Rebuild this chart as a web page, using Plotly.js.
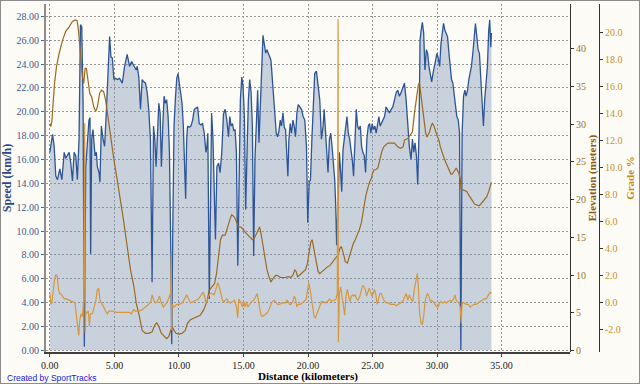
<!DOCTYPE html>
<html><head><meta charset="utf-8">
<script src="https://cdn.plot.ly/plotly-3.0.1.min.js"></script>
<style>
html,body{margin:0;padding:0;background:#fcfbf5;}
#wrap{position:relative;width:640px;height:384px;overflow:hidden;}
#chart{width:640px;height:384px;}
#frame{position:absolute;left:0;top:0;width:640px;height:384px;box-sizing:border-box;border:1px solid #8c8c8c;pointer-events:none;}
</style></head><body>
<div id="wrap"><div id="chart"></div><div id="frame"></div></div>
<script>
// ---- Speed (km/h) vs distance (km)
const speedKm = [0.00,0.21,0.33,0.46,0.59,0.77,0.93,1.11,1.23,1.36,1.49,1.62,1.75,1.88,2.01,2.13,2.26,2.37,2.47,2.57,2.67,2.78,2.91,3.03,3.11,3.16,3.24,3.34,3.50,3.60,3.68,3.81,3.88,3.99,4.12,4.24,4.37,4.50,4.63,4.73,4.84,4.96,5.09,5.22,5.40,5.61,5.79,5.99,6.17,6.33,6.51,6.69,
6.77,6.89,7.02,7.15,7.28,7.41,7.54,7.66,7.79,7.92,8.03,8.13,8.23,8.33,8.44,8.54,8.64,8.75,8.85,8.95,9.05,9.16,9.26,9.36,9.44,9.52,9.62,9.72,9.83,9.93,10.03,10.13,10.24,10.34,10.44,10.52,10.60,10.67,10.80,10.93,11.06,11.19,11.32,11.45,11.57,11.70,11.83,11.96,12.09,12.17,12.24,12.35,12.45,12.53,12.63,12.73,12.83,12.94,13.07,13.19,13.32,13.45,13.58,
13.71,13.84,13.94,14.04,14.15,14.25,14.35,14.45,14.56,14.66,14.76,14.87,14.97,15.07,15.17,15.28,15.38,15.48,15.59,15.69,15.79,15.89,16.00,16.10,16.20,16.31,16.41,16.51,16.61,16.72,16.82,16.92,17.03,17.13,17.23,17.33,17.44,17.54,17.64,17.75,17.85,17.95,18.06,18.16,18.26,18.36,18.44,18.52,18.62,18.72,18.83,18.93,19.03,19.14,19.24,19.37,19.50,19.62,19.75,19.88,19.98,20.09,20.19,20.29,20.40,20.52,
20.65,20.78,20.91,21.04,21.17,21.25,21.35,21.45,21.55,21.66,21.76,21.86,21.97,22.07,22.15,22.22,22.33,22.43,22.53,22.61,22.71,22.81,22.92,23.02,23.12,23.23,23.33,23.43,23.53,23.64,23.74,23.84,23.95,24.05,24.15,24.25,24.36,24.46,24.56,24.67,24.77,24.87,24.97,25.08,25.18,25.28,25.39,25.49,25.59,25.69,25.80,25.93,26.05,26.18,26.31,26.44,26.57,26.70,26.83,26.95,27.08,27.21,27.34,27.47,
27.60,27.73,27.85,27.98,28.09,28.19,28.29,28.40,28.50,28.60,28.68,28.76,28.86,28.96,29.06,29.17,29.27,29.37,29.48,29.58,29.68,29.78,29.89,29.99,30.09,30.20,30.30,30.40,30.50,30.61,30.71,30.81,30.92,31.02,31.12,31.22,31.33,31.43,31.53,31.64,31.74,31.84,31.94,32.05,32.15,32.25,32.36,32.46,32.56,32.66,32.77,32.87,32.97,33.08,33.18,33.28,33.38,33.49,33.59,33.69,33.80,33.90,34.00,34.08,34.16,34.21];
const speedKmh = [16.6,18.1,17.1,14.6,14.3,15.2,14.3,16.6,16.1,16.3,16.6,15.7,14.2,16.6,16.3,14.3,17.7,27.3,27.1,21.0,0.3,15.4,17.7,19.3,19.5,8.1,17.7,18.5,16.3,16.6,15.4,14.9,14.1,18.8,17.7,17.1,19.9,22.7,26.3,24.6,24.5,22.7,22.8,22.7,22.8,22.4,23.8,24.8,23.8,24.2,23.8,23.5,
23.8,22.9,20.2,22.7,22.5,22.4,21.6,20.2,17.7,5.7,18.8,17.7,15.4,18.2,20.7,19.9,15.4,18.8,21.3,20.7,21.0,19.6,16.8,9.1,0.5,9.9,18.8,21.0,22.8,23.2,22.4,21.8,20.7,18.8,15.4,12.7,17.7,18.8,18.7,18.8,19.3,20.2,20.3,20.4,19.0,18.9,19.0,18.2,16.6,17.1,18.2,4.3,12.7,19.9,17.9,12.7,9.3,15.4,15.7,14.9,16.6,19.8,20.2,
19.3,17.9,19.6,18.8,19.0,18.4,18.5,16.6,7.1,15.4,21.0,22.9,22.1,19.6,11.8,16.8,21.0,22.7,21.6,18.8,7.9,16.0,19.6,21.8,17.4,21.0,24.3,26.4,25.7,24.9,25.2,24.8,24.6,24.3,22.9,21.6,19.6,18.2,17.9,18.4,19.3,18.8,19.9,18.7,18.5,16.3,14.6,17.7,19.0,18.2,19.3,18.8,17.9,19.9,20.6,20.4,20.2,19.6,19.3,17.1,10.7,14.1,14.3,17.4,21.0,23.2,
23.4,22.1,21.0,17.7,18.8,20.2,18.2,16.0,14.9,17.7,18.2,17.1,15.4,14.3,12.0,8.8,12.7,16.6,14.9,13.3,16.8,17.7,18.8,19.6,18.2,17.7,16.8,16.0,14.6,17.7,20.2,18.8,18.5,18.8,17.1,16.6,16.3,14.9,17.7,18.8,19.0,18.2,19.0,18.5,18.8,18.2,19.0,19.6,18.8,19.0,19.3,19.6,20.4,20.2,19.9,20.2,20.4,21.0,21.6,21.8,21.3,21.6,22.1,22.4,
21.0,18.8,17.1,16.0,17.7,16.6,17.4,16.3,13.9,18.2,26.0,26.8,27.5,26.6,23.5,25.2,24.9,23.8,22.9,22.5,23.2,23.8,24.6,24.9,24.5,23.8,25.7,26.7,27.4,26.8,26.6,26.3,24.9,23.8,22.7,22.4,21.3,20.2,19.6,19.3,18.2,0.0,18.2,21.3,21.8,21.3,21.8,22.7,23.2,23.8,24.9,26.6,27.4,26.3,25.2,24.9,22.7,20.4,18.8,21.0,22.4,23.8,26.8,27.7,25.4,26.6];

// ---- Elevation (m) vs distance (km)
const elevKm = [0.00,0.08,0.15,0.26,0.36,0.51,0.72,0.98,1.23,1.49,1.75,1.95,2.11,2.21,2.31,2.42,2.52,2.62,2.73,2.83,2.93,3.09,3.24,3.40,3.55,3.68,3.86,4.01,4.17,4.32,4.48,4.63,4.78,4.96,5.22,5.48,5.74,5.99,6.25,6.51,6.69,
6.89,7.15,7.41,7.66,7.92,8.13,8.28,8.44,8.64,8.85,9.05,9.21,9.36,9.47,9.62,9.77,9.98,10.24,10.49,10.65,10.88,11.14,11.39,11.65,11.91,12.17,12.35,12.55,12.76,12.91,13.07,13.22,13.37,
13.58,13.71,13.84,13.97,14.09,14.30,14.45,14.61,14.76,14.92,15.07,15.23,15.38,15.53,15.69,15.84,16.00,16.15,16.25,16.36,16.51,16.67,16.82,16.98,17.13,17.23,17.39,17.54,17.70,17.85,18.00,18.21,18.47,18.67,18.83,18.98,19.08,19.19,19.34,19.50,19.65,19.80,19.96,20.11,20.22,20.32,20.42,20.52,
20.65,20.78,20.91,21.09,21.30,21.50,21.71,21.91,22.12,22.33,22.48,22.58,22.74,22.89,23.05,23.20,23.35,23.51,23.66,23.82,23.97,24.13,24.28,24.38,24.49,24.59,24.69,24.79,24.90,25.00,25.10,25.26,25.41,25.57,25.72,25.87,26.03,26.18,26.44,26.70,26.95,27.16,27.37,
27.47,27.73,27.93,28.09,28.24,28.40,28.55,28.63,28.70,28.81,28.91,29.01,29.12,29.22,29.32,29.42,29.53,29.63,29.73,29.83,29.94,30.04,30.14,30.25,30.35,30.45,30.55,30.66,30.76,30.86,30.97,31.07,31.17,31.28,31.38,31.48,31.58,31.69,31.79,31.87,32.00,32.15,32.30,32.46,32.61,32.77,32.92,33.08,33.23,33.38,33.54,33.69,33.85,34.00,34.16,34.21];
const elevM = [30.1,29.7,30.3,33.2,35.4,37.6,39.4,41.1,42.3,42.9,43.6,43.8,43.7,42.5,40.3,38.1,36.3,35.4,37.4,37.4,36.3,34.1,33.6,32.3,31.7,32.3,34.1,34.5,34.3,33.2,31.2,29.2,27.5,25.3,22.6,20.0,16.9,13.8,10.7,8.5,6.3,
4.9,2.7,2.3,2.3,2.5,3.4,3.7,3.2,2.3,1.9,1.6,1.9,2.7,3.2,2.7,2.3,2.2,2.3,2.7,3.6,4.1,4.3,4.4,4.7,5.4,6.5,8.0,8.5,8.9,10.2,12.9,14.7,15.3,
15.3,16.0,16.9,17.5,18.0,17.7,17.1,16.4,16.4,16.2,15.8,15.5,15.3,14.9,14.7,14.9,15.5,16.2,16.4,15.5,13.8,12.0,10.7,9.8,9.1,9.4,9.8,10.0,9.9,9.7,9.7,9.7,9.8,9.7,10.0,10.7,10.5,9.8,10.0,10.2,10.5,10.7,11.6,13.3,14.4,14.7,13.8,12.9,
11.6,10.5,10.2,10.5,10.8,11.1,11.3,11.8,12.2,12.7,13.6,13.8,12.9,11.8,11.6,12.5,13.3,14.2,14.7,15.3,16.0,16.9,18.2,19.5,20.6,21.5,21.9,22.4,22.8,23.5,23.9,24.0,24.2,25.3,26.4,27.0,27.2,27.5,27.5,27.5,27.0,26.8,27.0,
27.9,28.1,28.6,29.0,31.4,33.6,35.2,35.5,34.5,32.8,31.0,29.7,28.8,28.3,28.6,29.0,29.7,30.1,29.9,29.2,28.8,28.3,27.9,27.0,26.4,25.9,25.5,25.0,24.6,24.2,23.7,23.4,23.4,23.6,23.9,24.2,23.9,23.5,22.8,21.3,21.3,21.2,21.1,20.6,20.2,19.7,19.4,19.3,19.2,19.4,19.7,20.0,20.4,21.1,22.2,22.3];

// ---- Grade (%) vs distance (km)
const gradeKm = [0.00,0.08,0.15,0.26,0.36,0.46,0.57,0.67,0.77,0.93,1.11,1.29,1.49,1.75,1.95,2.06,2.16,2.24,2.31,2.42,2.52,2.62,2.70,2.73,2.78,2.83,2.98,3.06,3.14,3.29,3.45,3.55,3.68,3.78,3.88,4.01,4.17,4.32,4.45,4.58,4.73,4.94,5.14,5.35,5.56,5.76,5.97,6.17,6.33,6.48,6.64,
6.89,7.15,7.41,7.66,7.82,7.92,8.05,8.18,8.33,8.49,8.64,8.80,8.95,9.11,9.26,9.36,9.41,9.43,9.46,9.62,9.83,10.03,10.24,10.44,10.60,10.75,10.91,11.11,11.32,11.52,11.73,11.88,11.99,12.09,12.24,12.40,12.55,12.71,12.86,13.01,13.12,13.22,13.37,13.53,
13.58,13.71,13.84,13.99,14.15,14.30,14.45,14.56,14.63,14.76,14.92,15.02,15.12,15.23,15.33,15.48,15.64,15.79,15.95,16.07,16.15,16.25,16.36,16.46,16.61,16.77,16.92,17.08,17.23,17.39,17.49,17.64,17.80,17.95,18.11,18.26,18.36,18.47,18.57,18.67,18.83,18.93,19.03,19.14,19.24,19.39,19.55,19.70,19.86,19.96,20.06,20.16,20.27,20.37,20.47,20.58,
20.65,20.78,20.91,21.04,21.19,21.35,21.50,21.66,21.81,21.94,22.07,22.17,22.27,22.33,22.35,22.43,22.53,22.63,22.74,22.84,22.94,23.05,23.15,23.25,23.35,23.46,23.56,23.66,23.77,23.87,24.02,24.13,24.23,24.33,24.43,24.54,24.64,24.74,24.85,24.95,25.05,25.15,25.26,25.36,25.46,25.57,25.67,25.77,25.93,26.08,26.24,26.39,26.54,26.70,26.85,27.01,27.16,27.32,
27.47,27.60,27.73,27.85,27.98,28.11,28.24,28.37,28.47,28.55,28.65,28.76,28.86,28.96,29.06,29.17,29.27,29.37,29.48,29.58,29.68,29.78,29.89,29.99,30.09,30.20,30.30,30.45,30.61,30.71,30.86,31.02,31.12,31.28,31.38,31.48,31.58,31.69,31.79,31.87,31.94,32.10,32.25,32.41,32.56,32.72,32.87,33.03,33.18,33.33,33.49,33.64,33.80,33.90,34.00,34.10,34.21];
const gradePct = [0.7,-0.1,0.0,1.0,1.7,2.1,2.0,1.0,0.7,0.6,0.3,0.3,0.2,0.1,0.0,-1.0,-1.8,-2.4,-1.3,-0.8,-1.0,0.2,13.3,-2.2,-0.6,-0.8,-0.6,-1.7,-0.8,-0.8,-0.3,0.1,1.0,1.1,0.2,0.0,-0.3,-0.6,-0.8,-0.6,-0.6,-0.6,-0.7,-0.7,-0.7,-0.7,-0.7,-0.7,-0.8,-0.5,-0.6,
-0.6,-0.5,-0.3,-0.1,0.1,0.6,0.2,0.0,0.1,0.5,0.0,-0.3,-0.1,0.1,0.5,0.7,3.7,-2.0,-0.1,-0.3,-0.1,-0.1,0.0,0.3,0.6,0.3,0.0,0.1,0.2,0.3,0.6,0.8,0.5,0.0,0.3,0.7,0.7,0.6,1.0,1.5,1.2,0.7,0.2,0.1,
0.2,0.3,0.1,0.0,0.1,0.2,-0.3,-1.1,0.3,0.1,-0.3,0.1,-0.3,0.1,-0.3,-0.1,0.1,0.2,0.5,0.7,0.2,-0.5,-0.9,-1.0,-0.9,-0.8,-0.6,-0.3,0.1,0.2,0.1,-0.1,-0.1,0.0,0.0,0.0,0.2,0.1,-0.1,-0.1,0.1,0.5,0.3,-0.3,-0.1,-0.1,0.0,0.1,0.3,1.0,1.5,1.0,0.2,-0.5,-1.0,-1.1,
-0.9,-0.5,-0.1,0.1,0.1,0.0,0.1,0.3,0.1,0.2,0.2,0.3,0.7,21.0,-2.9,0.7,1.2,0.5,-0.4,-0.9,0.5,1.0,0.5,0.1,0.5,0.6,0.5,0.6,0.3,0.2,0.5,1.0,1.3,1.2,1.0,0.5,0.8,1.1,0.8,0.5,0.7,1.0,0.6,-0.1,0.3,0.7,0.7,0.5,0.1,0.0,0.0,-0.1,-0.1,-0.1,-0.2,-0.1,0.0,0.1,
0.4,0.7,0.2,0.6,0.3,0.1,1.0,1.7,2.2,1.2,-0.8,-1.5,-1.6,-1.0,0.0,0.5,0.7,0.5,0.1,0.2,0.1,0.0,-0.2,-0.3,-0.3,0.0,0.1,0.0,0.1,0.0,0.1,0.2,0.1,0.3,0.6,0.2,0.1,0.0,-0.3,-1.5,0.0,0.0,-0.1,-0.1,-0.3,-0.2,-0.1,-0.1,0.0,0.1,0.2,0.3,0.3,0.5,0.7,0.8,0.7];

// ---- Tick labels
const xTickVals = [0,5,10,15,20,25,30,35];
const xTickText = ['0.00','5.00','10.00','15.00','20.00','25.00','30.00','35.00'];
const speedTickVals = [0,2,4,6,8,10,12,14,16,18,20,22,24,26,28];
const speedTickText = ['0.00','2.00','4.00','6.00','8.00','10.00','12.00','14.00','16.00','18.00','20.00','22.00','24.00','26.00','28.00'];
const elevTickVals = [0,5,10,15,20,25,30,35,40];
const gradeTickVals = [-2,0,2,4,6,8,10,12,14,16,18,20];
const gradeTickText = ['-2.0','0.0','2.0','4.0','6.0','8.0','10.0','12.0','14.0','16.0','18.0','20.0'];

const serif = 'Liberation Serif, Times New Roman, serif';
const BG = '#fcfbf5';
const GRID = '#939393';
const XDOM = 0.9476;

const traces = [
  {x: speedKm, y: speedKmh, type: 'scatter', mode: 'lines', fill: 'tozeroy',
   fillcolor: 'rgba(130,149,188,0.42)', line: {color: '#2d5596', width: 1.3}, yaxis: 'y', hoverinfo: 'skip'},
  {x: elevKm, y: elevM, type: 'scatter', mode: 'lines',
   line: {color: '#9b6a22', width: 1.2}, yaxis: 'y2', hoverinfo: 'skip'},
  {x: gradeKm, y: gradePct, type: 'scatter', mode: 'lines',
   line: {color: '#d6983a', width: 1.2}, yaxis: 'y3', hoverinfo: 'skip'}
];

const layout = {
  width: 640, height: 384,
  margin: {l: 46, r: 41, t: 4, b: 32, pad: 0},
  paper_bgcolor: BG, plot_bgcolor: BG,
  showlegend: false,
  xaxis: {
    domain: [0, XDOM], range: [-0.3, 40.3], automargin: false,
    tickmode: 'array', tickvals: xTickVals, ticktext: xTickText,
    ticks: 'outside', ticklen: 3, tickcolor: '#444',
    showline: true, linecolor: '#404040', linewidth: 1.5,
    showgrid: true, gridcolor: GRID, griddash: '2px,2px', gridwidth: 1, zeroline: false,
    tickfont: {family: serif, size: 10, color: '#222'},
    title: {text: 'Distance (kilometers)', standoff: 3,
            font: {family: serif, size: 11, color: '#000', weight: 'bold'}}
  },
  yaxis: {
    range: [-0.14, 29.03], automargin: false,
    tickmode: 'array', tickvals: speedTickVals, ticktext: speedTickText,
    ticks: 'outside', ticklen: 3, tickcolor: '#5a6f9a',
    showline: true, linecolor: '#8c8c8c', linewidth: 2,
    showgrid: true, gridcolor: GRID, griddash: '2px,2px', gridwidth: 1, zeroline: false,
    tickfont: {family: serif, size: 10, color: '#3f5a8e'},
    title: {text: 'Speed (km/h)', standoff: 4,
            font: {family: serif, size: 12, color: '#2e4a86', weight: 'bold'}}
  },
  yaxis2: {
    overlaying: 'y', side: 'right', anchor: 'free', position: XDOM,
    range: [-0.17, 45.92], automargin: false,
    tickmode: 'array', tickvals: elevTickVals,
    ticks: 'outside', ticklen: 3, tickcolor: '#333',
    showline: true, linecolor: '#333', linewidth: 1,
    showgrid: false, zeroline: false,
    tickfont: {family: serif, size: 10, color: '#9a7434'},
    title: {text: 'Elevation (meters)', standoff: 3,
            font: {family: serif, size: 11, color: '#8a5a14', weight: 'bold'}}
  },
  yaxis3: {
    overlaying: 'y', side: 'right', anchor: 'free', position: 1,
    range: [-3.63, 22.13], automargin: false,
    tickmode: 'array', tickvals: gradeTickVals, ticktext: gradeTickText,
    ticks: 'outside', ticklen: 3, tickcolor: '#333',
    showline: true, linecolor: '#333', linewidth: 1,
    showgrid: false, zeroline: false,
    tickfont: {family: serif, size: 10, color: '#c8922e'},
    title: {text: 'Grade %', standoff: 4,
            font: {family: serif, size: 11, color: '#c88a22', weight: 'bold'}}
  },
  annotations: [{
    text: 'Created by SportTracks', xref: 'paper', yref: 'paper',
    x: -0.0741, y: -0.0747, xanchor: 'left', yanchor: 'middle', showarrow: false,
    font: {family: 'Liberation Sans, Arial, sans-serif', size: 8.5, color: '#1a1ad8'}
  }]
};

Plotly.newPlot('chart', traces, layout, {staticPlot: true, displayModeBar: false});
</script></body></html>
